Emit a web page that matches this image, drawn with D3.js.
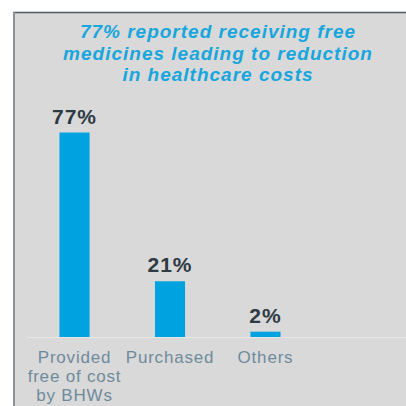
<!DOCTYPE html>
<html lang="en">
<head>
  <meta charset="UTF-8">
  <title>Source of medicines</title>
  <script src="https://d3js.org/d3.v7.min.js"></script>
  <style>
    html, body { margin: 0; padding: 0; background: #ffffff; }
    svg { display: block; }
  </style>
</head>
<body>
<svg width="406" height="406"></svg>
<script>
const categories = [["Provided", "free of cost", "by BHWs"], ["Purchased"], ["Others"]];
const values = [77, 21, 2];
const valueLabels = ["77%", "21%", "2%"];
const titleLines = ["77% reported receiving free", "medicines leading to reduction", "in healthcare costs"];

const svg = d3.select("svg");
const baseline = 337;
const font = "Liberation Sans, Arial, sans-serif";

// panel
svg.append("rect")
  .attr("x", 13).attr("y", 12)
  .attr("width", 400).attr("height", 400)
  .attr("fill", "#d9d9d9");
svg.append("line")
  .attr("x1", 13).attr("x2", 406).attr("y1", 12.5).attr("y2", 12.5)
  .attr("stroke", "#4b5a63").attr("stroke-width", 1.5);
svg.append("line")
  .attr("x1", 14).attr("x2", 14).attr("y1", 12).attr("y2", 406)
  .attr("stroke", "#8c9297").attr("stroke-width", 2);

// title
svg.append("text")
  .attr("text-anchor", "middle")
  .attr("font-family", font)
  .attr("font-weight", "bold")
  .attr("font-style", "italic")
  .attr("font-size", 19)
  .attr("letter-spacing", 1)
  .attr("fill", "#17a6dd")
  .selectAll("tspan")
  .data(titleLines)
  .join("tspan")
  .attr("x", 218)
  .attr("y", (d, i) => 38 + i * 21.5)
  .text(d => d);

const x = d3.scaleBand()
  .domain(d3.range(values.length))
  .range([27, 313])
  .paddingInner(0.685)
  .paddingOuter(0.34);

const y = d3.scaleLinear()
  .domain([0, 77])
  .range([baseline, 132.5]);

// baseline
svg.append("line")
  .attr("x1", 27).attr("x2", 406)
  .attr("y1", baseline + 0.5).attr("y2", baseline + 0.5)
  .attr("stroke", "#e4e7e8").attr("stroke-width", 1);

svg.selectAll("rect.bar")
  .data(values)
  .join("rect")
  .attr("class", "bar")
  .attr("x", (d, i) => x(i))
  .attr("y", d => y(d))
  .attr("width", x.bandwidth())
  .attr("height", d => baseline - y(d))
  .attr("fill", "#00a3e0");

svg.selectAll("text.val")
  .data(values)
  .join("text")
  .attr("class", "val")
  .attr("x", (d, i) => x(i) + x.bandwidth() / 2)
  .attr("y", d => y(d) - 9)
  .attr("text-anchor", "middle")
  .attr("font-family", font)
  .attr("font-weight", "bold")
  .attr("font-size", 21)
  .attr("letter-spacing", 1)
  .attr("fill", "#2e3a44")
  .text((d, i) => valueLabels[i]);

const cat = svg.selectAll("text.cat")
  .data(categories)
  .join("text")
  .attr("class", "cat")
  .attr("text-anchor", "middle")
  .attr("font-family", font)
  .attr("font-size", 17)
  .attr("letter-spacing", 0.8)
  .attr("fill", "#6e8b9c");

cat.each(function(lines, i) {
  d3.select(this).selectAll("tspan")
    .data(lines)
    .join("tspan")
    .attr("x", x(i) + x.bandwidth() / 2)
    .attr("y", (d, j) => 363 + j * 19)
    .text(d => d);
});
</script>
</body>
</html>
